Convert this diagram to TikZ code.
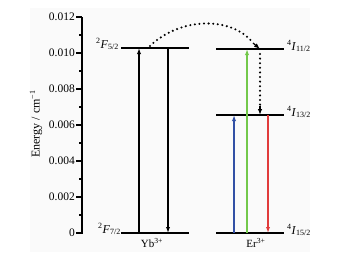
\documentclass[tikz,border=0pt]{standalone}
\usepackage{fontspec}
\setmainfont{Liberation Serif}
\usetikzlibrary{arrows.meta}
\definecolor{bluearr}{RGB}{50,80,165}
\definecolor{greenarr}{RGB}{115,200,75}
\definecolor{redarr}{RGB}{225,60,60}
\begin{document}
\begin{tikzpicture}[x=1pt,y=-1pt,
  level/.style={line width=1.8pt},
  trans/.style={line width=1.2pt,-{Latex[length=6pt,width=4.2pt]}},
  dots/.style={line width=2.3pt,dash pattern=on 0pt off 4.6pt,line cap=round},
  ticklab/.style={anchor=east,font=\fontsize{11.5}{13}\selectfont,inner sep=0pt},
  lvllab/.style={font=\fontsize{12}{14}\selectfont,inner sep=0pt},
  ionlab/.style={font=\fontsize{11}{13}\selectfont,inner sep=0pt}]
\useasboundingbox (0,0) rectangle (339,255);
\fill[black!2] (30,8) rectangle (310,252);
% axis
\draw[line width=1.3pt] (82,17) coordinate (atop) -- (82,233.6) coordinate (abot);
\foreach \v/\t in {0/0,1/0.002,2/0.004,3/0.006,4/0.008,5/0.010,6/0.012}{
  \draw[line width=1.3pt] (82,233-36*\v) -- (76,233-36*\v);
  \node[ticklab] at (75,233-36*\v) {\t};
}
\foreach \v in {0,...,5}{
  \draw[line width=1.1pt] (82,233-36*\v-18) -- (79,233-36*\v-18);
}
\node[rotate=90,font=\fontsize{12}{14}\selectfont,inner sep=0pt] (ylab) at (36,124) {Energy / cm\textsuperscript{−1}};
% Yb levels
\coordinate (ybhL) at (121,48); \coordinate (ybhR) at (189,48);
\coordinate (yblL) at (121,233); \coordinate (yblR) at (189,233);
\draw[level] (ybhL) -- (ybhR);
\draw[level] (yblL) -- (yblR);
\node[lvllab,anchor=base east] (f52) at (119,48) {\textsuperscript{2}\textit{F}\textsubscript{5/2}};
\node[lvllab,anchor=base east] (f72) at (121,233) {\textsuperscript{2}\textit{F}\textsubscript{7/2}};
\node[ionlab] (yb) at (152,243) {Yb\textsuperscript{3+}};
% Er levels
\coordinate (e11L) at (216,49); \coordinate (e11R) at (284,49);
\coordinate (e13L) at (216,115); \coordinate (e13R) at (284,115);
\coordinate (e15L) at (216,233); \coordinate (e15R) at (284,233);
\draw[level] (e11L) -- (e11R);
\draw[level] (e13L) -- (e13R);
\draw[level] (e15L) -- (e15R);
\node[lvllab,anchor=base west] (i11) at (287,50) {\textsuperscript{4}\textit{I}\textsubscript{11/2}};
\node[lvllab,anchor=base west] (i13) at (287,116) {\textsuperscript{4}\textit{I}\textsubscript{13/2}};
\node[lvllab,anchor=base west] (i15) at (287,234) {\textsuperscript{4}\textit{I}\textsubscript{15/2}};
\node[ionlab] (er) at (256,243) {Er\textsuperscript{3+}};
% Yb transitions
\coordinate (yu0) at (139,233); \coordinate (yu1) at (139,48);
\coordinate (yd0) at (168,48); \coordinate (yd1) at (168,233);
\draw[trans] (yu0) -- (yu1);
\draw[trans] (yd0) -- (yd1);
% Er transitions
\coordinate (b0) at (234,233); \coordinate (b1) at (234,115);
\coordinate (g0) at (247,233); \coordinate (g1) at (247,49);
\coordinate (r0) at (268,115); \coordinate (r1) at (268,233);
\coordinate (d0) at (260,54); \coordinate (d1) at (260,115);
\draw[trans,bluearr] (b0) -- (b1);
\draw[trans,greenarr] (g0) -- (g1);
\draw[trans,redarr] (r0) -- (r1);
\draw[dots] (d0) -- (260,106);
\draw[-{Latex[length=6pt,width=4.5pt]},line width=1.2pt] (260,106) -- (d1);
% energy transfer curve
\coordinate (c0) at (150,46); \coordinate (c1) at (260,49);
\draw[dots] (c0) .. controls (180,17) and (232,16) .. (253,43);
\draw[-{Latex[length=6pt,width=4.5pt]},line width=1.2pt] (253,43) -- (c1);
\end{tikzpicture}
\end{document}
